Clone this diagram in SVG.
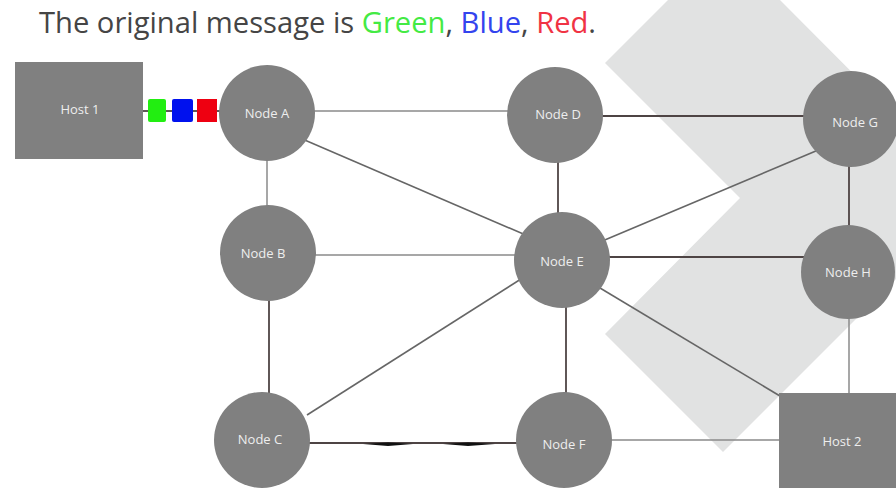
<svg xmlns="http://www.w3.org/2000/svg" width="896" height="488" viewBox="0 0 896 488">
<style>
.node circle, .node rect.box { fill: #808080; }
.lbl { font-family: "Open Sans", "DejaVu Sans", sans-serif; font-size: 13px; fill: #eeeeee; text-anchor: middle; dominant-baseline: central; }
.light { stroke: #8a8a8a; stroke-width: 1.5; fill: none; }
.dark { stroke: #4e4444; stroke-width: 1.8; fill: none; }
.mid { stroke: #666; stroke-width: 1.6; fill: none; }
.title { font-family: "Open Sans", "DejaVu Sans", sans-serif; font-size: 28.5px; fill: #454545; }
</style>
<rect width="896" height="488" fill="#ffffff"/>
<polygon id="bg" points="605,63 668,0 780,0 977,198 723,452 605,334 740,198" fill="#e1e2e2"/>
<text class="title" x="39" y="33" textLength="557" lengthAdjust="spacingAndGlyphs">The original message is <tspan fill="#44ea44">Green</tspan>, <tspan fill="#3344ee">Blue</tspan>, <tspan fill="#f03344">Red</tspan>.</text>
<g id="connectors">
  <line class="dark" x1="143" y1="111" x2="148" y2="111"/>
  <line class="dark" x1="166" y1="111" x2="172" y2="111"/>
  <line class="dark" x1="193" y1="111" x2="197" y2="111"/>
  <line class="dark" x1="217" y1="111" x2="222" y2="111"/>
  <line class="light" x1="312" y1="111" x2="516" y2="111"/>
  <line class="light" x1="267" y1="160" x2="267" y2="207"/>
  <line class="mid" x1="300" y1="138" x2="528" y2="236"/>
  <line class="dark" x1="601" y1="116" x2="815" y2="116"/>
  <line class="dark" x1="558" y1="162" x2="558" y2="214"/>
  <line class="mid" x1="823" y1="148" x2="600" y2="242"/>
  <line class="dark" x1="849" y1="165" x2="849" y2="227"/>
  <line class="light" x1="312" y1="255" x2="520" y2="255"/>
  <line class="dark" x1="608" y1="257" x2="813" y2="257"/>
  <line class="dark" x1="269" y1="300" x2="269" y2="394"/>
  <line class="mid" x1="307" y1="415" x2="532" y2="272"/>
  <line class="dark" x1="566" y1="306" x2="566" y2="394"/>
  <line class="mid" x1="595" y1="285" x2="795" y2="405"/>
  <line class="light" x1="849" y1="315" x2="849" y2="398"/>
  <line class="light" x1="607" y1="440" x2="783" y2="440"/>
  <line class="dark" x1="309" y1="443" x2="521" y2="443"/>
  <polygon points="363,444 388,442.5 413,444 388,446" fill="#111"/>
  <polygon points="443,444 468,442.5 495,444 468,446" fill="#111"/>
</g>
<g id="host1" class="node"><rect class="box" x="15" y="62" width="128" height="97"/><text class="lbl" x="80" y="109">Host 1</text></g>
<g id="msg-green"><rect x="148" y="99" width="18" height="23" rx="2" fill="#22ee11"/></g>
<g id="msg-blue"><rect x="172" y="99" width="21" height="23" rx="2" fill="#0011ee"/></g>
<g id="msg-red"><rect x="197" y="99" width="20" height="23" fill="#ee0011"/></g>
<g id="nodeA" class="node"><circle cx="267" cy="113" r="48"/><text class="lbl" x="267" y="113">Node A</text></g>
<g id="nodeD" class="node"><circle cx="555" cy="115" r="48"/><text class="lbl" x="558" y="114">Node D</text></g>
<g id="nodeG" class="node"><circle cx="851" cy="119" r="48"/><text class="lbl" x="855" y="122">Node G</text></g>
<g id="nodeB" class="node"><circle cx="268" cy="253" r="48"/><text class="lbl" x="263" y="253">Node B</text></g>
<g id="nodeE" class="node"><circle cx="562" cy="260" r="48"/><text class="lbl" x="562" y="261">Node E</text></g>
<g id="nodeH" class="node"><circle cx="848" cy="272" r="47"/><text class="lbl" x="848" y="272">Node H</text></g>
<g id="nodeC" class="node"><circle cx="262" cy="440" r="48"/><text class="lbl" x="260" y="439">Node C</text></g>
<g id="nodeF" class="node"><circle cx="564" cy="440" r="48"/><text class="lbl" x="564" y="444">Node F</text></g>
<g id="host2" class="node"><rect class="box" x="779" y="393" width="130" height="100"/><text class="lbl" x="842" y="441">Host 2</text></g>
</svg>
